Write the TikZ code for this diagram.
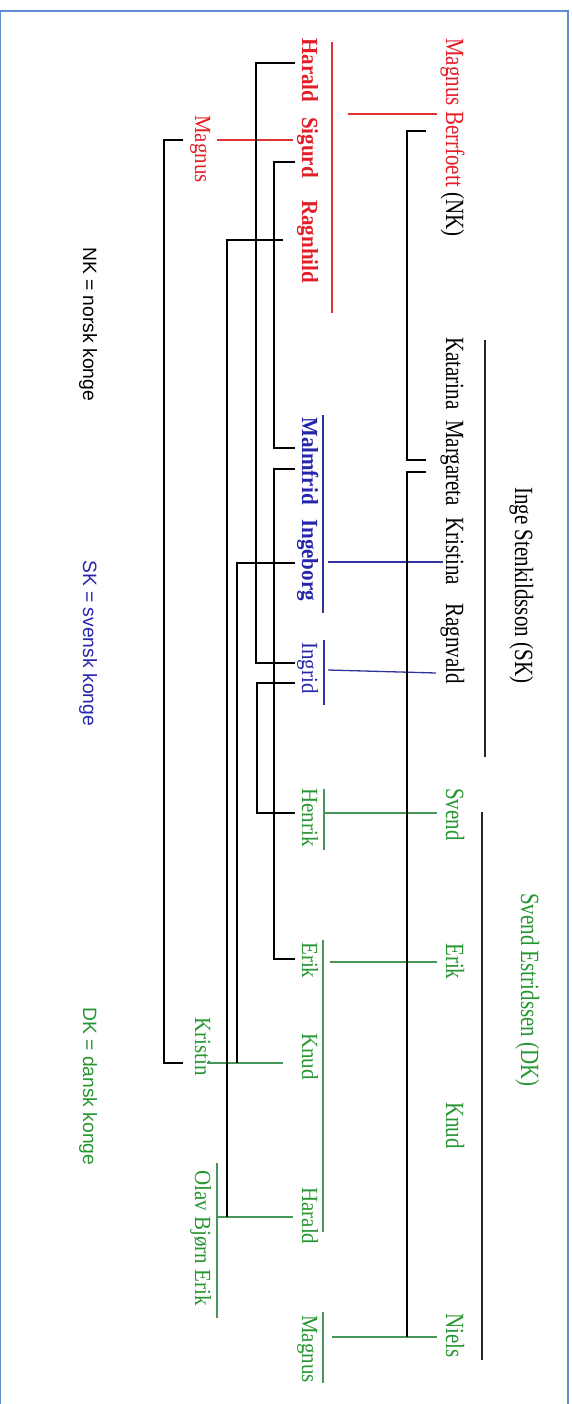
\documentclass[tikz,border=0pt]{standalone}
\usepackage{fontspec}
\setmainfont{Liberation Serif}
\setsansfont{Liberation Sans}
\usepackage{graphicx}
\definecolor{kred}{RGB}{226,30,38}
\definecolor{kblue}{RGB}{38,38,172}
\definecolor{kgreen}{RGB}{38,150,48}
\definecolor{lred}{RGB}{222,50,50}
\definecolor{lblue}{RGB}{50,50,160}
\definecolor{lgreen}{RGB}{70,150,90}
\definecolor{bord}{RGB}{95,140,210}
\newcommand{\vstr}[1]{\scalebox{1}[1.25]{#1}}
\newcommand{\vsm}[1]{\scalebox{1}[1.1]{#1}}
\begin{document}
\begin{tikzpicture}[x=1pt,y=-1pt,
  nm/.style={rotate=-90,anchor=base west,inner sep=0pt,font=\fontsize{21}{24}\selectfont},
  bnm/.style={nm,font=\fontsize{21}{24}\selectfont\bfseries},
  lg/.style={rotate=-90,anchor=base west,inner sep=0pt,font=\sffamily\fontsize{19.3}{22}\selectfont},
  bl/.style={draw=black,line width=1.7pt},
  rl/.style={draw=lred,line width=1.3pt},
  ul/.style={draw=lblue,line width=1.3pt},
  gl/.style={draw=lgreen,line width=1.3pt},
  kl/.style={draw=black!85,line width=1.5pt}]
\useasboundingbox (0,0) rectangle (572,1404);
\draw[bord,line width=1.5pt] (0.4,1404) -- (0.4,11) -- (568,11) -- (568,1404);

% far right column
\node[nm] (inge) at (515,487) {\vstr{Inge Stenkildsson (SK)}};
\node[nm,text=kgreen] (svend0) at (521,893) {\vstr{Svend Estridssen (DK)}};

% right column
\node[nm] (mbf) at (446,38) {\vstr{\textcolor{kred}{Magnus Berrfoett} (NK)}};
\node[nm] (kat) at (446,337) {\vstr{Katarina}};
\node[nm] (mar) at (446,420) {\vstr{Margareta}};
\node[nm] (kri) at (446,517) {\vstr{Kristina}};
\node[nm] (rag) at (446,603) {\vstr{Ragnvald}};
\node[nm,text=kgreen] (sve) at (446,788) {\vstr{Svend}};
\node[nm,text=kgreen] (eri) at (446,943) {\vstr{Erik}};
\node[nm,text=kgreen] (knu) at (446,1102) {\vstr{Knud}};
\node[nm,text=kgreen] (nie) at (446,1313) {\vstr{Niels}};

% middle column
\node[bnm,text=kred] (har) at (302,38) {\vsm{Harald}};
\node[bnm,text=kred] (sig) at (302,117) {\vsm{Sigurd}};
\node[bnm,text=kred] (ragn) at (302,200) {\vsm{Ragnhild}};
\node[bnm,text=kblue] (mal) at (302,417) {\vsm{Malmfrid}};
\node[bnm,text=kblue] (ing) at (302,519) {\vsm{Ingeborg}};
\node[nm,text=kblue] (ingr) at (302,642) {\vsm{Ingrid}};
\node[nm,text=kgreen] (hen) at (302,788) {\vsm{Henrik}};
\node[nm,text=kgreen] (eri2) at (302,942) {\vsm{Erik}};
\node[nm,text=kgreen] (knu2) at (302,1033) {\vsm{Knud}};
\node[nm,text=kgreen] (har2) at (302,1187) {\vsm{Harald}};
\node[nm,text=kgreen] (mag2) at (302,1315) {\vsm{Magnus}};

% left column
\node[nm,text=kred] (mag) at (195,115) {\vsm{Magnus}};
\node[nm,text=kgreen] (krs) at (195,1017) {\vsm{Kristin}};
\node[nm,text=kgreen] (obe) at (195,1170) {\vsm{Olav Bjørn Erik}};

% legends
\node[lg] (nk) at (83,247) {NK = norsk konge};
\node[lg,text=kblue] (sk) at (83,560) {SK = svensk konge};
\node[lg,text=kgreen] (dk) at (83,1007) {DK = dansk konge};

% sibling bars
\draw[kl] (485,340) -- (485,757);
\draw[kl] (482,812) -- (482,1360);
\draw[rl] (332,42) -- (332,313);
\draw[ul] (323,415) -- (323,613);
\draw[ul] (324,640) -- (324,705);
\draw[gl] (324,789) -- (324,850);
\draw[gl] (323,940) -- (323,1232);
\draw[gl] (323,1312) -- (323,1383);
\draw[gl] (217,1163) -- (217,1318);

% parent-child links
\draw[rl] (348,114) -- (437,114);
\draw[rl] (217,140) -- (293,140);
\draw[ul] (328,562) -- (443,562);
\draw[ul] (328,670) -- (436,673);
\draw[gl] (324,813) -- (437,813);
\draw[gl] (330,962) -- (437,962);
\draw[gl] (207,1063) -- (283,1063);
\draw[gl] (217,1217) -- (293,1217);
\draw[gl] (332,1337) -- (437,1337);

% marriages
\draw[bl] (426,131) -- (407,131) -- (407,460) -- (426,460);
\draw[bl] (426,472) -- (407,472) -- (407,1337);
\draw[bl] (295,63) -- (256,63) -- (256,663) -- (295,663);
\draw[bl] (295,683) -- (257,683) -- (257,813) -- (295,813);
\draw[bl] (295,162) -- (274,162) -- (274,448) -- (295,448);
\draw[bl] (295,469) -- (274,469) -- (274,959) -- (295,959);
\draw[bl] (283,240) -- (227,240) -- (227,1217);
\draw[bl] (295,563) -- (237,563) -- (237,1063);
\draw[bl] (183,140) -- (164,140) -- (164,1063) -- (183,1063);
\end{tikzpicture}
\end{document}
